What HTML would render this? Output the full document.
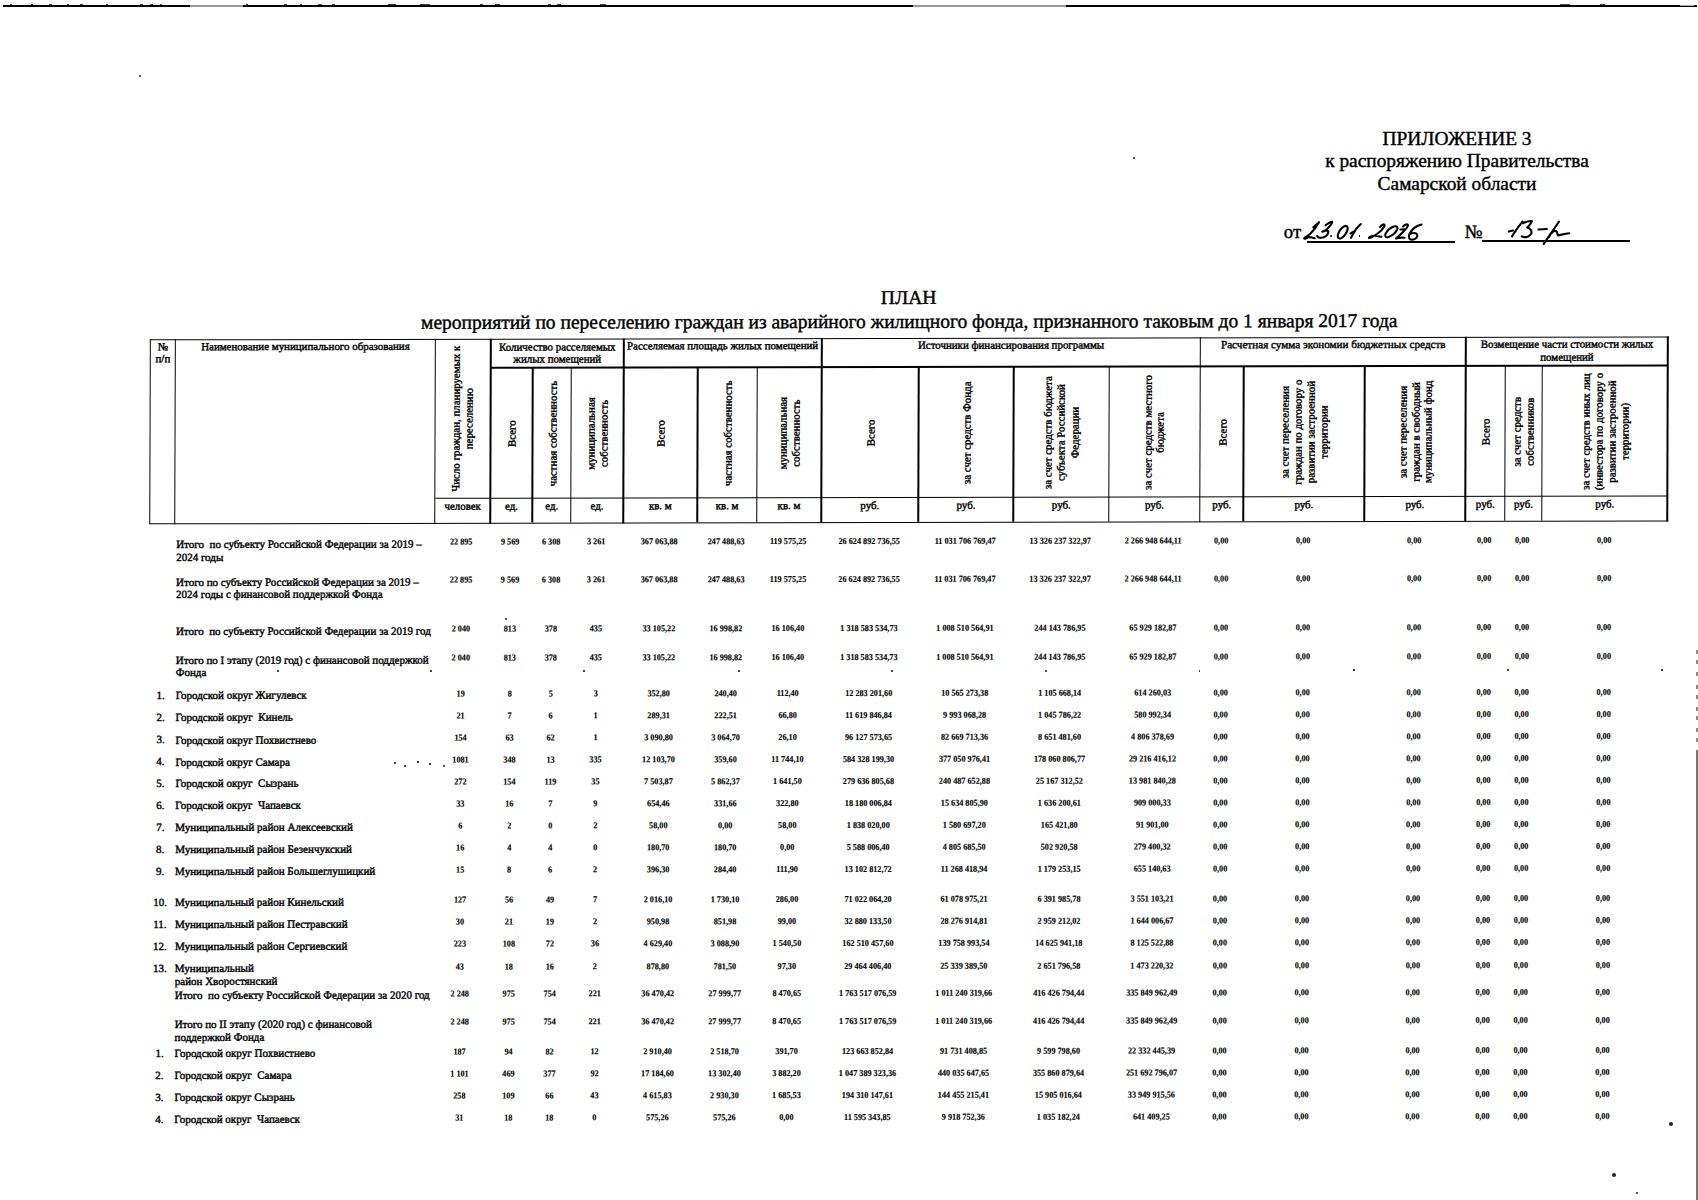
<!DOCTYPE html>
<html><head><meta charset="utf-8">
<style>
html,body{margin:0;padding:0;background:#fff;}
body{width:1698px;height:1200px;overflow:hidden;position:relative;font-family:"Liberation Serif",serif;color:#000;}
.t,.v{-webkit-text-stroke:0.4px #000;}
.t{position:absolute;white-space:nowrap;}
.l{position:absolute;}
.n{font-weight:bold;-webkit-text-stroke:0.1px #000;transform:scaleX(0.91);}
.v{position:absolute;width:300px;height:200px;display:flex;align-items:center;justify-content:center;text-align:center;white-space:nowrap;transform:rotate(-90deg);}
.pg{position:absolute;left:0;top:0;width:1698px;height:1200px;transform:matrix(1,-0.0019,-0.0032,1,0,0);transform-origin:849px 600px;}
.pr{transform:matrix(1,-0.0014,-0.0032,1,0,0);}
</style></head><body>
<div class="t " style="left:457.0px;width:2000px;text-align:center;top:127.1px;font-size:19.4px;line-height:23.279999999999998px;">ПРИЛОЖЕНИЕ 3</div>
<div class="t " style="left:457.0px;width:2000px;text-align:center;top:149.1px;font-size:19.4px;line-height:23.279999999999998px;">к распоряжению Правительства</div>
<div class="t " style="left:457.0px;width:2000px;text-align:center;top:171.6px;font-size:19.4px;line-height:23.279999999999998px;">Самарской области</div>
<div class="t " style="left:1283.8px;top:220.6px;font-size:18.8px;line-height:22.56px;">от</div>
<div class="l" style="left:1306.5px;top:241.00px;width:148.1px;height:1.8px;background:#000"></div>
<div class="t " style="left:1464.5px;top:220.6px;font-size:18.8px;line-height:22.56px;">№</div>
<div class="l" style="left:1482.3px;top:240.45px;width:147.3px;height:1.7px;background:#000"></div>
<svg class="l" style="left:0;top:0" width="1698" height="1200" viewBox="0 0 1698 1200" fill="none" stroke="#000" stroke-width="2.1" stroke-linecap="round" stroke-linejoin="round">
<path d="M1313.3,227.4 L1319,222.2 C1317,226 1313,231 1310.5,233.5 C1308,236 1305,237 1304.3,238 C1303.5,239.5 1306,238.5 1308.1,237.3 C1310,236.5 1312,238 1314.7,238.3"/>
<path d="M1325.6,225.1 C1328,223.5 1331,221.5 1332.2,221.8 C1332,224 1329,227 1327.4,228.8 C1325.5,230.5 1323,231.5 1322.3,231.7 C1325,230.5 1328.5,230 1328.4,232 C1328,235 1325,237.5 1321,237.8 C1319,238 1317.5,237 1317.1,235.9"/>
<ellipse cx="1342.7" cy="232.2" rx="7.3" ry="3.4" transform="rotate(-56 1342.7 232.2)"/>
<path d="M1360.9,224.1 C1359.5,225 1358,227 1356,229 L1351,237.8 M1350.5,233.5 L1354,231.5"/>
<path d="M1380,227 C1382,224 1385,223.5 1384.5,226 C1383,229 1380,232 1377,234 C1374,236 1370,238.5 1369,238 C1368.5,237 1372,235.5 1375,235.8 C1377.5,236 1379.5,236.5 1381.4,236.8"/>
<ellipse cx="1391.3" cy="231.7" rx="7.6" ry="3.3" transform="rotate(-40 1391.3 231.7)"/>
<path d="M1403,226.5 C1405,224.5 1408,223.5 1408,225.5 C1407,229 1401,234 1396,238.5 C1399,237.5 1402,237.5 1404.5,237.8 M1400.5,229.5 L1405,229.3"/>
<path d="M1421.5,224.6 C1417,225.5 1412,229 1409.5,234 C1408,237.5 1409.5,240 1412,239.7 C1415,239.5 1418,237.5 1417.2,235 C1416.5,232.5 1412,232.5 1409.7,234.5"/>
<path d="M1508.8,231.6 L1513,230.5 M1522.5,221.5 C1519,226 1515,231 1512,236.4"/>
<path d="M1523,223.2 C1526,221.8 1530,220.8 1532,221.2 C1531,223.5 1529,226 1527.2,227.6 C1530.5,228.5 1532.5,231 1531,234 C1529,237 1525,238 1521.8,236.4"/>
<path d="M1538.4,229.5 L1546.9,229"/>
<path d="M1559.1,221.5 L1543.7,243.8 M1549,237 C1551,233 1554,230.5 1556,231 C1558,232 1557,235 1558,235.5 C1561,235 1565,233.5 1569.2,233.2"/>
</svg>
<div class="l" style="left:1330.3px;top:235.2px;width:1.8px;height:1.8px;border-radius:1px;background:#000"></div>
<div class="l" style="left:1358.6px;top:235px;width:1.8px;height:1.8px;border-radius:1px;background:#000"></div>
<div class="l" style="left:3.0px;top:5.00px;width:1694.0px;height:1.8px;background:#000"></div>
<div class="l" style="left:190.0px;top:5.00px;width:53.0px;height:1.8px;background:#999"></div>
<div class="l" style="left:913.0px;top:5.10px;width:153.0px;height:1.6px;background:#999"></div>
<div class="l" style="left:1680.0px;top:4.50px;width:14.0px;height:1.6px;background:#aaa"></div>
<div class="l" style="left:10px;top:4.0px;width:2px;height:1.4px;background:#444"></div>
<div class="l" style="left:31px;top:4.0px;width:2px;height:1.4px;background:#444"></div>
<div class="l" style="left:49px;top:4.0px;width:3px;height:1.4px;background:#444"></div>
<div class="l" style="left:67px;top:4.0px;width:2px;height:1.4px;background:#444"></div>
<div class="l" style="left:80px;top:4.0px;width:3px;height:1.4px;background:#444"></div>
<div class="l" style="left:106px;top:4.0px;width:2px;height:1.4px;background:#444"></div>
<div class="l" style="left:140px;top:4.0px;width:2px;height:1.4px;background:#444"></div>
<div class="l" style="left:141px;top:4.0px;width:2px;height:1.4px;background:#444"></div>
<div class="l" style="left:150px;top:4.0px;width:3px;height:1.4px;background:#444"></div>
<div class="l" style="left:160px;top:4.0px;width:2px;height:1.4px;background:#444"></div>
<div class="l" style="left:246px;top:4.0px;width:2px;height:1.4px;background:#444"></div>
<div class="l" style="left:284px;top:4.0px;width:3px;height:1.4px;background:#444"></div>
<div class="l" style="left:300px;top:4.0px;width:2px;height:1.4px;background:#444"></div>
<div class="l" style="left:318px;top:4.0px;width:4px;height:1.4px;background:#444"></div>
<div class="l" style="left:332px;top:4.0px;width:3px;height:1.4px;background:#444"></div>
<div class="l" style="left:388px;top:4.0px;width:8px;height:1.4px;background:#444"></div>
<div class="l" style="left:420px;top:4.0px;width:10px;height:1.4px;background:#444"></div>
<div class="l" style="left:480px;top:4.0px;width:3px;height:1.4px;background:#444"></div>
<div class="l" style="left:495px;top:4.0px;width:5px;height:1.4px;background:#444"></div>
<div class="l" style="left:548px;top:4.0px;width:3px;height:1.4px;background:#444"></div>
<div class="l" style="left:557px;top:4.0px;width:4px;height:1.4px;background:#444"></div>
<div class="l" style="left:600px;top:4.0px;width:6px;height:1.4px;background:#444"></div>
<div class="l" style="left:1560px;top:4.0px;width:10px;height:1.4px;background:#444"></div>
<div class="l" style="left:1600px;top:4.0px;width:5px;height:1.4px;background:#444"></div>
<div class="l" style="left:1696.20px;top:750.0px;width:1.6px;height:450.0px;background:#777"></div>
<div class="l" style="left:1696px;top:650px;width:2px;height:4px;background:#888"></div>
<div class="l" style="left:1696px;top:660px;width:2px;height:4px;background:#888"></div>
<div class="l" style="left:1696px;top:672px;width:2px;height:4px;background:#888"></div>
<div class="l" style="left:1696px;top:685px;width:2px;height:4px;background:#888"></div>
<div class="l" style="left:1696px;top:695px;width:2px;height:4px;background:#888"></div>
<div class="l" style="left:1696px;top:707px;width:2px;height:4px;background:#888"></div>
<div class="l" style="left:1696px;top:716px;width:2px;height:4px;background:#888"></div>
<div class="l" style="left:1696px;top:728px;width:2px;height:4px;background:#888"></div>
<div class="l" style="left:1696px;top:738px;width:2px;height:4px;background:#888"></div>
<div class="l" style="left:138.5px;top:74.5px;width:2px;height:2px;border-radius:50%;background:#222"></div>
<div class="l" style="left:1133.0px;top:156.5px;width:2px;height:2px;border-radius:50%;background:#222"></div>
<div class="l" style="left:505.0px;top:618.0px;width:2px;height:2px;border-radius:50%;background:#222"></div>
<div class="l" style="left:1669.0px;top:1122.0px;width:4px;height:4px;border-radius:50%;background:#222"></div>
<div class="l" style="left:1612.0px;top:1173.0px;width:4px;height:4px;border-radius:50%;background:#222"></div>
<div class="l" style="left:1635.8px;top:1191.8px;width:2.4px;height:2.4px;border-radius:50%;background:#222"></div>
<div class="l" style="left:394.2px;top:762.2px;width:1.6px;height:1.6px;border-radius:50%;background:#222"></div>
<div class="l" style="left:404.2px;top:765.2px;width:1.6px;height:1.6px;border-radius:50%;background:#222"></div>
<div class="l" style="left:417.2px;top:761.2px;width:1.6px;height:1.6px;border-radius:50%;background:#222"></div>
<div class="l" style="left:429.2px;top:763.2px;width:1.6px;height:1.6px;border-radius:50%;background:#222"></div>
<div class="l" style="left:443.0px;top:765.0px;width:2px;height:2px;border-radius:50%;background:#222"></div>
<div class="l" style="left:277.2px;top:670.2px;width:1.6px;height:1.6px;border-radius:50%;background:#222"></div>
<div class="l" style="left:430.2px;top:670.2px;width:1.6px;height:1.6px;border-radius:50%;background:#222"></div>
<div class="l" style="left:583.2px;top:670.2px;width:1.6px;height:1.6px;border-radius:50%;background:#222"></div>
<div class="l" style="left:738.2px;top:670.2px;width:1.6px;height:1.6px;border-radius:50%;background:#222"></div>
<div class="l" style="left:891.2px;top:670.2px;width:1.6px;height:1.6px;border-radius:50%;background:#222"></div>
<div class="l" style="left:1045.2px;top:670.2px;width:1.6px;height:1.6px;border-radius:50%;background:#222"></div>
<div class="l" style="left:1198.7px;top:670.2px;width:1.6px;height:1.6px;border-radius:50%;background:#222"></div>
<div class="l" style="left:1353.2px;top:669.2px;width:1.6px;height:1.6px;border-radius:50%;background:#222"></div>
<div class="l" style="left:1507.2px;top:669.2px;width:1.6px;height:1.6px;border-radius:50%;background:#222"></div>
<div class="l" style="left:1661.2px;top:669.2px;width:1.6px;height:1.6px;border-radius:50%;background:#222"></div>
<div class="pg">
<div class="t " style="left:-92.3px;width:2000px;text-align:center;top:286.0px;font-size:19.6px;line-height:23.52px;">ПЛАН</div>
<div class="t " style="left:-91.6px;width:2000px;text-align:center;top:309.9px;font-size:19.5px;line-height:23.4px;white-space:nowrap">мероприятий по переселению граждан из аварийного жилищного фонда, признанного таковым до 1 января 2017 года</div>
<div class="l" style="left:148.8px;top:337.80px;width:1519.2px;height:1.6px;background:#000"></div>
<div class="l" style="left:148.8px;top:521.60px;width:1519.2px;height:1.6px;background:#000"></div>
<div class="l" style="left:148.80px;top:337.8px;width:1.6px;height:185.4px;background:#000"></div>
<div class="l" style="left:173.90px;top:337.8px;width:1.6px;height:185.4px;background:#000"></div>
<div class="l" style="left:433.80px;top:337.8px;width:1.6px;height:185.4px;background:#000"></div>
<div class="l" style="left:489.40px;top:337.8px;width:1.6px;height:185.4px;background:#000"></div>
<div class="l" style="left:531.40px;top:367.1px;width:1.6px;height:155.3px;background:#000"></div>
<div class="l" style="left:569.90px;top:367.1px;width:1.6px;height:155.3px;background:#000"></div>
<div class="l" style="left:622.00px;top:337.8px;width:1.6px;height:185.4px;background:#000"></div>
<div class="l" style="left:696.30px;top:367.1px;width:1.6px;height:155.3px;background:#000"></div>
<div class="l" style="left:755.70px;top:367.1px;width:1.6px;height:155.3px;background:#000"></div>
<div class="l" style="left:820.10px;top:337.8px;width:1.6px;height:185.4px;background:#000"></div>
<div class="l" style="left:917.40px;top:367.1px;width:1.6px;height:155.3px;background:#000"></div>
<div class="l" style="left:1012.40px;top:367.1px;width:1.6px;height:155.3px;background:#000"></div>
<div class="l" style="left:1107.90px;top:367.1px;width:1.6px;height:155.3px;background:#000"></div>
<div class="l" style="left:1198.90px;top:337.8px;width:1.6px;height:185.4px;background:#000"></div>
<div class="l" style="left:1242.40px;top:367.1px;width:1.6px;height:155.3px;background:#000"></div>
<div class="l" style="left:1363.10px;top:367.1px;width:1.6px;height:155.3px;background:#000"></div>
<div class="l" style="left:1464.40px;top:337.8px;width:1.6px;height:185.4px;background:#000"></div>
<div class="l" style="left:1503.90px;top:367.1px;width:1.6px;height:155.3px;background:#000"></div>
<div class="l" style="left:1540.90px;top:367.1px;width:1.6px;height:155.3px;background:#000"></div>
<div class="l" style="left:1666.40px;top:337.8px;width:1.6px;height:185.4px;background:#000"></div>
<div class="l" style="left:490.2px;top:366.30px;width:1177.0px;height:1.6px;background:#000"></div>
<div class="l" style="left:434.6px;top:496.90px;width:1232.6px;height:1.6px;background:#000"></div>
<div class="t " style="left:-837.9px;width:2000px;text-align:center;top:338.9px;font-size:10.9px;line-height:12px;">№<br>п/п</div>
<div class="t " style="left:-695.4px;width:2000px;text-align:center;top:339.0px;font-size:10.9px;line-height:13.08px;">Наименование муниципального образования</div>
<div class="t " style="left:-443.5px;width:2000px;text-align:center;top:339.5px;font-size:10.9px;line-height:12px;">Количество расселяемых<br>жилых помещений</div>
<div class="t " style="left:-278.2px;width:2000px;text-align:center;top:339.0px;font-size:10.9px;line-height:13.08px;">Расселяемая площадь жилых помещений</div>
<div class="t " style="left:10.3px;width:2000px;text-align:center;top:339.0px;font-size:10.9px;line-height:13.08px;">Источники финансирования программы</div>
<div class="t " style="left:332.5px;width:2000px;text-align:center;top:338.7px;font-size:11.15px;line-height:13.38px;">Расчетная сумма экономии бюджетных средств</div>
<div class="t " style="left:566.2px;width:2000px;text-align:center;top:339.3px;font-size:10.9px;line-height:12.4px;">Возмещение части стоимости жилых<br>помещений</div>
<div class="v" style="left:312.4px;top:318.1px;font-size:10.9px;line-height:13.3px;"><span>Число граждан, планируемых к<br>переселению</span></div>
<div class="v" style="left:361.2px;top:332.9px;font-size:10.9px;line-height:12.6px;"><span>Всего</span></div>
<div class="v" style="left:401.5px;top:332.9px;font-size:10.9px;line-height:12.6px;"><span>частная собственность</span></div>
<div class="v" style="left:446.8px;top:332.9px;font-size:10.9px;line-height:12.6px;"><span>муниципальная<br>собственность</span></div>
<div class="v" style="left:510.0px;top:332.9px;font-size:10.9px;line-height:12.6px;"><span>Всего</span></div>
<div class="v" style="left:576.8px;top:332.9px;font-size:10.9px;line-height:12.6px;"><span>частная собственность</span></div>
<div class="v" style="left:638.7px;top:332.9px;font-size:10.9px;line-height:12.6px;"><span>муниципальная<br>собственность</span></div>
<div class="v" style="left:719.5px;top:332.9px;font-size:10.9px;line-height:12.6px;"><span>Всего</span></div>
<div class="v" style="left:815.7px;top:332.9px;font-size:10.9px;line-height:12.6px;"><span>за счет средств Фонда</span></div>
<div class="v" style="left:911.0px;top:332.9px;font-size:10.9px;line-height:13.3px;"><span>за счет средств бюджета<br>субъекта Российской<br>Федерации</span></div>
<div class="v" style="left:1004.2px;top:332.9px;font-size:10.9px;line-height:11.8px;"><span>за счет средств местного<br>бюджета</span></div>
<div class="v" style="left:1071.5px;top:332.9px;font-size:10.9px;line-height:12.6px;"><span>Всего</span></div>
<div class="v" style="left:1153.6px;top:332.9px;font-size:10.9px;line-height:13.0px;"><span>за счет переселения<br>граждан по договору о<br>развитии застроенной<br>территории</span></div>
<div class="v" style="left:1264.6px;top:332.9px;font-size:10.9px;line-height:12.8px;"><span>за счет переселения<br>граждан в свободный<br>муниципальный фонд</span></div>
<div class="v" style="left:1335.0px;top:332.9px;font-size:10.9px;line-height:12.6px;"><span>Всего</span></div>
<div class="v" style="left:1373.2px;top:332.9px;font-size:10.9px;line-height:13.0px;"><span>за счет средств<br>собственников</span></div>
<div class="v" style="left:1454.5px;top:332.9px;font-size:10.9px;line-height:13.0px;"><span>за счет средств иных лиц<br>(инвестора по договору о<br>развитии застроенной<br>территории)</span></div>
<div class="t " style="left:-537.6px;width:2000px;text-align:center;top:498.6px;font-size:10.9px;line-height:13.08px;">человек</div>
<div class="t " style="left:-488.8px;width:2000px;text-align:center;top:498.6px;font-size:10.9px;line-height:13.08px;">ед.</div>
<div class="t " style="left:-448.5px;width:2000px;text-align:center;top:498.6px;font-size:10.9px;line-height:13.08px;">ед.</div>
<div class="t " style="left:-403.2px;width:2000px;text-align:center;top:498.6px;font-size:10.9px;line-height:13.08px;">ед.</div>
<div class="t " style="left:-340.0px;width:2000px;text-align:center;top:498.6px;font-size:10.9px;line-height:13.08px;">кв. м</div>
<div class="t " style="left:-273.2px;width:2000px;text-align:center;top:498.6px;font-size:10.9px;line-height:13.08px;">кв. м</div>
<div class="t " style="left:-211.3px;width:2000px;text-align:center;top:498.6px;font-size:10.9px;line-height:13.08px;">кв. м</div>
<div class="t " style="left:-130.5px;width:2000px;text-align:center;top:498.6px;font-size:10.9px;line-height:13.08px;">руб.</div>
<div class="t " style="left:-34.3px;width:2000px;text-align:center;top:498.6px;font-size:10.9px;line-height:13.08px;">руб.</div>
<div class="t " style="left:61.0px;width:2000px;text-align:center;top:498.6px;font-size:10.9px;line-height:13.08px;">руб.</div>
<div class="t " style="left:154.2px;width:2000px;text-align:center;top:498.6px;font-size:10.9px;line-height:13.08px;">руб.</div>
<div class="t " style="left:221.5px;width:2000px;text-align:center;top:498.6px;font-size:10.9px;line-height:13.08px;">руб.</div>
<div class="t " style="left:303.6px;width:2000px;text-align:center;top:498.6px;font-size:10.9px;line-height:13.08px;">руб.</div>
<div class="t " style="left:414.6px;width:2000px;text-align:center;top:498.6px;font-size:10.9px;line-height:13.08px;">руб.</div>
<div class="t " style="left:485.0px;width:2000px;text-align:center;top:498.6px;font-size:10.9px;line-height:13.08px;">руб.</div>
<div class="t " style="left:523.2px;width:2000px;text-align:center;top:498.6px;font-size:10.9px;line-height:13.08px;">руб.</div>
<div class="t " style="left:604.5px;width:2000px;text-align:center;top:498.6px;font-size:10.9px;line-height:13.08px;">руб.</div>
</div>
<div class="pg pr">
<div class="t " style="left:176.0px;top:537.1px;font-size:11.0px;line-height:12.5px;">Итого&nbsp; по субъекту Российской Федерации за 2019 –<br>2024 годы</div>
<div class="t n" style="left:-538.6px;width:2000px;text-align:center;top:536.3px;font-size:9.0px;line-height:10px;">22 895</div>
<div class="t n" style="left:-489.8px;width:2000px;text-align:center;top:536.3px;font-size:9.0px;line-height:10px;">9 569</div>
<div class="t n" style="left:-449.5px;width:2000px;text-align:center;top:536.3px;font-size:9.0px;line-height:10px;">6 308</div>
<div class="t n" style="left:-404.2px;width:2000px;text-align:center;top:536.3px;font-size:9.0px;line-height:10px;">3 261</div>
<div class="t n" style="left:-341.0px;width:2000px;text-align:center;top:536.3px;font-size:9.0px;line-height:10px;">367 063,88</div>
<div class="t n" style="left:-274.2px;width:2000px;text-align:center;top:536.3px;font-size:9.0px;line-height:10px;">247 488,63</div>
<div class="t n" style="left:-212.3px;width:2000px;text-align:center;top:536.3px;font-size:9.0px;line-height:10px;">119 575,25</div>
<div class="t n" style="left:-131.5px;width:2000px;text-align:center;top:536.3px;font-size:9.0px;line-height:10px;">26 624 892 736,55</div>
<div class="t n" style="left:-35.3px;width:2000px;text-align:center;top:536.3px;font-size:9.0px;line-height:10px;">11 031 706 769,47</div>
<div class="t n" style="left:60.0px;width:2000px;text-align:center;top:536.3px;font-size:9.0px;line-height:10px;">13 326 237 322,97</div>
<div class="t n" style="left:153.2px;width:2000px;text-align:center;top:536.3px;font-size:9.0px;line-height:10px;">2 266 948 644,11</div>
<div class="t n" style="left:220.5px;width:2000px;text-align:center;top:536.3px;font-size:9.0px;line-height:10px;">0,00</div>
<div class="t n" style="left:302.6px;width:2000px;text-align:center;top:536.3px;font-size:9.0px;line-height:10px;">0,00</div>
<div class="t n" style="left:413.6px;width:2000px;text-align:center;top:536.3px;font-size:9.0px;line-height:10px;">0,00</div>
<div class="t n" style="left:484.0px;width:2000px;text-align:center;top:536.3px;font-size:9.0px;line-height:10px;">0,00</div>
<div class="t n" style="left:522.2px;width:2000px;text-align:center;top:536.3px;font-size:9.0px;line-height:10px;">0,00</div>
<div class="t n" style="left:603.5px;width:2000px;text-align:center;top:536.3px;font-size:9.0px;line-height:10px;">0,00</div>
<div class="t " style="left:176.0px;top:574.5px;font-size:11.0px;line-height:12.5px;">Итого по субъекту Российской Федерации за 2019 –<br>2024 годы с финансовой поддержкой Фонда</div>
<div class="t n" style="left:-538.6px;width:2000px;text-align:center;top:573.7px;font-size:9.0px;line-height:10px;">22 895</div>
<div class="t n" style="left:-489.8px;width:2000px;text-align:center;top:573.7px;font-size:9.0px;line-height:10px;">9 569</div>
<div class="t n" style="left:-449.5px;width:2000px;text-align:center;top:573.7px;font-size:9.0px;line-height:10px;">6 308</div>
<div class="t n" style="left:-404.2px;width:2000px;text-align:center;top:573.7px;font-size:9.0px;line-height:10px;">3 261</div>
<div class="t n" style="left:-341.0px;width:2000px;text-align:center;top:573.7px;font-size:9.0px;line-height:10px;">367 063,88</div>
<div class="t n" style="left:-274.2px;width:2000px;text-align:center;top:573.7px;font-size:9.0px;line-height:10px;">247 488,63</div>
<div class="t n" style="left:-212.3px;width:2000px;text-align:center;top:573.7px;font-size:9.0px;line-height:10px;">119 575,25</div>
<div class="t n" style="left:-131.5px;width:2000px;text-align:center;top:573.7px;font-size:9.0px;line-height:10px;">26 624 892 736,55</div>
<div class="t n" style="left:-35.3px;width:2000px;text-align:center;top:573.7px;font-size:9.0px;line-height:10px;">11 031 706 769,47</div>
<div class="t n" style="left:60.0px;width:2000px;text-align:center;top:573.7px;font-size:9.0px;line-height:10px;">13 326 237 322,97</div>
<div class="t n" style="left:153.2px;width:2000px;text-align:center;top:573.7px;font-size:9.0px;line-height:10px;">2 266 948 644,11</div>
<div class="t n" style="left:220.5px;width:2000px;text-align:center;top:573.7px;font-size:9.0px;line-height:10px;">0,00</div>
<div class="t n" style="left:302.6px;width:2000px;text-align:center;top:573.7px;font-size:9.0px;line-height:10px;">0,00</div>
<div class="t n" style="left:413.6px;width:2000px;text-align:center;top:573.7px;font-size:9.0px;line-height:10px;">0,00</div>
<div class="t n" style="left:484.0px;width:2000px;text-align:center;top:573.7px;font-size:9.0px;line-height:10px;">0,00</div>
<div class="t n" style="left:522.2px;width:2000px;text-align:center;top:573.7px;font-size:9.0px;line-height:10px;">0,00</div>
<div class="t n" style="left:603.5px;width:2000px;text-align:center;top:573.7px;font-size:9.0px;line-height:10px;">0,00</div>
<div class="t " style="left:176.0px;top:623.8px;font-size:11.0px;line-height:12.5px;">Итого&nbsp; по субъекту Российской Федерации за 2019 год</div>
<div class="t n" style="left:-538.6px;width:2000px;text-align:center;top:623.0px;font-size:9.0px;line-height:10px;">2 040</div>
<div class="t n" style="left:-489.8px;width:2000px;text-align:center;top:623.0px;font-size:9.0px;line-height:10px;">813</div>
<div class="t n" style="left:-449.5px;width:2000px;text-align:center;top:623.0px;font-size:9.0px;line-height:10px;">378</div>
<div class="t n" style="left:-404.2px;width:2000px;text-align:center;top:623.0px;font-size:9.0px;line-height:10px;">435</div>
<div class="t n" style="left:-341.0px;width:2000px;text-align:center;top:623.0px;font-size:9.0px;line-height:10px;">33 105,22</div>
<div class="t n" style="left:-274.2px;width:2000px;text-align:center;top:623.0px;font-size:9.0px;line-height:10px;">16 998,82</div>
<div class="t n" style="left:-212.3px;width:2000px;text-align:center;top:623.0px;font-size:9.0px;line-height:10px;">16 106,40</div>
<div class="t n" style="left:-131.5px;width:2000px;text-align:center;top:623.0px;font-size:9.0px;line-height:10px;">1 318 583 534,73</div>
<div class="t n" style="left:-35.3px;width:2000px;text-align:center;top:623.0px;font-size:9.0px;line-height:10px;">1 008 510 564,91</div>
<div class="t n" style="left:60.0px;width:2000px;text-align:center;top:623.0px;font-size:9.0px;line-height:10px;">244 143 786,95</div>
<div class="t n" style="left:153.2px;width:2000px;text-align:center;top:623.0px;font-size:9.0px;line-height:10px;">65 929 182,87</div>
<div class="t n" style="left:220.5px;width:2000px;text-align:center;top:623.0px;font-size:9.0px;line-height:10px;">0,00</div>
<div class="t n" style="left:302.6px;width:2000px;text-align:center;top:623.0px;font-size:9.0px;line-height:10px;">0,00</div>
<div class="t n" style="left:413.6px;width:2000px;text-align:center;top:623.0px;font-size:9.0px;line-height:10px;">0,00</div>
<div class="t n" style="left:484.0px;width:2000px;text-align:center;top:623.0px;font-size:9.0px;line-height:10px;">0,00</div>
<div class="t n" style="left:522.2px;width:2000px;text-align:center;top:623.0px;font-size:9.0px;line-height:10px;">0,00</div>
<div class="t n" style="left:603.5px;width:2000px;text-align:center;top:623.0px;font-size:9.0px;line-height:10px;">0,00</div>
<div class="t " style="left:176.0px;top:652.8px;font-size:11.0px;line-height:12.5px;">Итого по I этапу (2019 год) с финансовой поддержкой<br>Фонда</div>
<div class="t n" style="left:-538.6px;width:2000px;text-align:center;top:652.0px;font-size:9.0px;line-height:10px;">2 040</div>
<div class="t n" style="left:-489.8px;width:2000px;text-align:center;top:652.0px;font-size:9.0px;line-height:10px;">813</div>
<div class="t n" style="left:-449.5px;width:2000px;text-align:center;top:652.0px;font-size:9.0px;line-height:10px;">378</div>
<div class="t n" style="left:-404.2px;width:2000px;text-align:center;top:652.0px;font-size:9.0px;line-height:10px;">435</div>
<div class="t n" style="left:-341.0px;width:2000px;text-align:center;top:652.0px;font-size:9.0px;line-height:10px;">33 105,22</div>
<div class="t n" style="left:-274.2px;width:2000px;text-align:center;top:652.0px;font-size:9.0px;line-height:10px;">16 998,82</div>
<div class="t n" style="left:-212.3px;width:2000px;text-align:center;top:652.0px;font-size:9.0px;line-height:10px;">16 106,40</div>
<div class="t n" style="left:-131.5px;width:2000px;text-align:center;top:652.0px;font-size:9.0px;line-height:10px;">1 318 583 534,73</div>
<div class="t n" style="left:-35.3px;width:2000px;text-align:center;top:652.0px;font-size:9.0px;line-height:10px;">1 008 510 564,91</div>
<div class="t n" style="left:60.0px;width:2000px;text-align:center;top:652.0px;font-size:9.0px;line-height:10px;">244 143 786,95</div>
<div class="t n" style="left:153.2px;width:2000px;text-align:center;top:652.0px;font-size:9.0px;line-height:10px;">65 929 182,87</div>
<div class="t n" style="left:220.5px;width:2000px;text-align:center;top:652.0px;font-size:9.0px;line-height:10px;">0,00</div>
<div class="t n" style="left:302.6px;width:2000px;text-align:center;top:652.0px;font-size:9.0px;line-height:10px;">0,00</div>
<div class="t n" style="left:413.6px;width:2000px;text-align:center;top:652.0px;font-size:9.0px;line-height:10px;">0,00</div>
<div class="t n" style="left:484.0px;width:2000px;text-align:center;top:652.0px;font-size:9.0px;line-height:10px;">0,00</div>
<div class="t n" style="left:522.2px;width:2000px;text-align:center;top:652.0px;font-size:9.0px;line-height:10px;">0,00</div>
<div class="t n" style="left:603.5px;width:2000px;text-align:center;top:652.0px;font-size:9.0px;line-height:10px;">0,00</div>
<div class="t " style="left:-839.0px;width:2000px;text-align:center;top:688.0px;font-size:11.0px;line-height:13.2px;">1.</div>
<div class="t " style="left:176.0px;top:688.4px;font-size:11.0px;line-height:12.5px;">Городской округ Жигулевск</div>
<div class="t n" style="left:-538.6px;width:2000px;text-align:center;top:687.6px;font-size:9.0px;line-height:10px;">19</div>
<div class="t n" style="left:-489.8px;width:2000px;text-align:center;top:687.6px;font-size:9.0px;line-height:10px;">8</div>
<div class="t n" style="left:-449.5px;width:2000px;text-align:center;top:687.6px;font-size:9.0px;line-height:10px;">5</div>
<div class="t n" style="left:-404.2px;width:2000px;text-align:center;top:687.6px;font-size:9.0px;line-height:10px;">3</div>
<div class="t n" style="left:-341.0px;width:2000px;text-align:center;top:687.6px;font-size:9.0px;line-height:10px;">352,80</div>
<div class="t n" style="left:-274.2px;width:2000px;text-align:center;top:687.6px;font-size:9.0px;line-height:10px;">240,40</div>
<div class="t n" style="left:-212.3px;width:2000px;text-align:center;top:687.6px;font-size:9.0px;line-height:10px;">112,40</div>
<div class="t n" style="left:-131.5px;width:2000px;text-align:center;top:687.6px;font-size:9.0px;line-height:10px;">12 283 201,60</div>
<div class="t n" style="left:-35.3px;width:2000px;text-align:center;top:687.6px;font-size:9.0px;line-height:10px;">10 565 273,38</div>
<div class="t n" style="left:60.0px;width:2000px;text-align:center;top:687.6px;font-size:9.0px;line-height:10px;">1 105 668,14</div>
<div class="t n" style="left:153.2px;width:2000px;text-align:center;top:687.6px;font-size:9.0px;line-height:10px;">614 260,03</div>
<div class="t n" style="left:220.5px;width:2000px;text-align:center;top:687.6px;font-size:9.0px;line-height:10px;">0,00</div>
<div class="t n" style="left:302.6px;width:2000px;text-align:center;top:687.6px;font-size:9.0px;line-height:10px;">0,00</div>
<div class="t n" style="left:413.6px;width:2000px;text-align:center;top:687.6px;font-size:9.0px;line-height:10px;">0,00</div>
<div class="t n" style="left:484.0px;width:2000px;text-align:center;top:687.6px;font-size:9.0px;line-height:10px;">0,00</div>
<div class="t n" style="left:522.2px;width:2000px;text-align:center;top:687.6px;font-size:9.0px;line-height:10px;">0,00</div>
<div class="t n" style="left:603.5px;width:2000px;text-align:center;top:687.6px;font-size:9.0px;line-height:10px;">0,00</div>
<div class="t " style="left:-839.0px;width:2000px;text-align:center;top:710.0px;font-size:11.0px;line-height:13.2px;">2.</div>
<div class="t " style="left:176.0px;top:710.4px;font-size:11.0px;line-height:12.5px;">Городской округ&nbsp; Кинель</div>
<div class="t n" style="left:-538.6px;width:2000px;text-align:center;top:709.6px;font-size:9.0px;line-height:10px;">21</div>
<div class="t n" style="left:-489.8px;width:2000px;text-align:center;top:709.6px;font-size:9.0px;line-height:10px;">7</div>
<div class="t n" style="left:-449.5px;width:2000px;text-align:center;top:709.6px;font-size:9.0px;line-height:10px;">6</div>
<div class="t n" style="left:-404.2px;width:2000px;text-align:center;top:709.6px;font-size:9.0px;line-height:10px;">1</div>
<div class="t n" style="left:-341.0px;width:2000px;text-align:center;top:709.6px;font-size:9.0px;line-height:10px;">289,31</div>
<div class="t n" style="left:-274.2px;width:2000px;text-align:center;top:709.6px;font-size:9.0px;line-height:10px;">222,51</div>
<div class="t n" style="left:-212.3px;width:2000px;text-align:center;top:709.6px;font-size:9.0px;line-height:10px;">66,80</div>
<div class="t n" style="left:-131.5px;width:2000px;text-align:center;top:709.6px;font-size:9.0px;line-height:10px;">11 619 846,84</div>
<div class="t n" style="left:-35.3px;width:2000px;text-align:center;top:709.6px;font-size:9.0px;line-height:10px;">9 993 068,28</div>
<div class="t n" style="left:60.0px;width:2000px;text-align:center;top:709.6px;font-size:9.0px;line-height:10px;">1 045 786,22</div>
<div class="t n" style="left:153.2px;width:2000px;text-align:center;top:709.6px;font-size:9.0px;line-height:10px;">580 992,34</div>
<div class="t n" style="left:220.5px;width:2000px;text-align:center;top:709.6px;font-size:9.0px;line-height:10px;">0,00</div>
<div class="t n" style="left:302.6px;width:2000px;text-align:center;top:709.6px;font-size:9.0px;line-height:10px;">0,00</div>
<div class="t n" style="left:413.6px;width:2000px;text-align:center;top:709.6px;font-size:9.0px;line-height:10px;">0,00</div>
<div class="t n" style="left:484.0px;width:2000px;text-align:center;top:709.6px;font-size:9.0px;line-height:10px;">0,00</div>
<div class="t n" style="left:522.2px;width:2000px;text-align:center;top:709.6px;font-size:9.0px;line-height:10px;">0,00</div>
<div class="t n" style="left:603.5px;width:2000px;text-align:center;top:709.6px;font-size:9.0px;line-height:10px;">0,00</div>
<div class="t " style="left:-839.0px;width:2000px;text-align:center;top:732.2px;font-size:11.0px;line-height:13.2px;">3.</div>
<div class="t " style="left:176.0px;top:732.6px;font-size:11.0px;line-height:12.5px;">Городской округ Похвистнево</div>
<div class="t n" style="left:-538.6px;width:2000px;text-align:center;top:731.8px;font-size:9.0px;line-height:10px;">154</div>
<div class="t n" style="left:-489.8px;width:2000px;text-align:center;top:731.8px;font-size:9.0px;line-height:10px;">63</div>
<div class="t n" style="left:-449.5px;width:2000px;text-align:center;top:731.8px;font-size:9.0px;line-height:10px;">62</div>
<div class="t n" style="left:-404.2px;width:2000px;text-align:center;top:731.8px;font-size:9.0px;line-height:10px;">1</div>
<div class="t n" style="left:-341.0px;width:2000px;text-align:center;top:731.8px;font-size:9.0px;line-height:10px;">3 090,80</div>
<div class="t n" style="left:-274.2px;width:2000px;text-align:center;top:731.8px;font-size:9.0px;line-height:10px;">3 064,70</div>
<div class="t n" style="left:-212.3px;width:2000px;text-align:center;top:731.8px;font-size:9.0px;line-height:10px;">26,10</div>
<div class="t n" style="left:-131.5px;width:2000px;text-align:center;top:731.8px;font-size:9.0px;line-height:10px;">96 127 573,65</div>
<div class="t n" style="left:-35.3px;width:2000px;text-align:center;top:731.8px;font-size:9.0px;line-height:10px;">82 669 713,36</div>
<div class="t n" style="left:60.0px;width:2000px;text-align:center;top:731.8px;font-size:9.0px;line-height:10px;">8 651 481,60</div>
<div class="t n" style="left:153.2px;width:2000px;text-align:center;top:731.8px;font-size:9.0px;line-height:10px;">4 806 378,69</div>
<div class="t n" style="left:220.5px;width:2000px;text-align:center;top:731.8px;font-size:9.0px;line-height:10px;">0,00</div>
<div class="t n" style="left:302.6px;width:2000px;text-align:center;top:731.8px;font-size:9.0px;line-height:10px;">0,00</div>
<div class="t n" style="left:413.6px;width:2000px;text-align:center;top:731.8px;font-size:9.0px;line-height:10px;">0,00</div>
<div class="t n" style="left:484.0px;width:2000px;text-align:center;top:731.8px;font-size:9.0px;line-height:10px;">0,00</div>
<div class="t n" style="left:522.2px;width:2000px;text-align:center;top:731.8px;font-size:9.0px;line-height:10px;">0,00</div>
<div class="t n" style="left:603.5px;width:2000px;text-align:center;top:731.8px;font-size:9.0px;line-height:10px;">0,00</div>
<div class="t " style="left:-839.0px;width:2000px;text-align:center;top:754.2px;font-size:11.0px;line-height:13.2px;">4.</div>
<div class="t " style="left:176.0px;top:754.6px;font-size:11.0px;line-height:12.5px;">Городской округ Самара</div>
<div class="t n" style="left:-538.6px;width:2000px;text-align:center;top:753.8px;font-size:9.0px;line-height:10px;">1081</div>
<div class="t n" style="left:-489.8px;width:2000px;text-align:center;top:753.8px;font-size:9.0px;line-height:10px;">348</div>
<div class="t n" style="left:-449.5px;width:2000px;text-align:center;top:753.8px;font-size:9.0px;line-height:10px;">13</div>
<div class="t n" style="left:-404.2px;width:2000px;text-align:center;top:753.8px;font-size:9.0px;line-height:10px;">335</div>
<div class="t n" style="left:-341.0px;width:2000px;text-align:center;top:753.8px;font-size:9.0px;line-height:10px;">12 103,70</div>
<div class="t n" style="left:-274.2px;width:2000px;text-align:center;top:753.8px;font-size:9.0px;line-height:10px;">359,60</div>
<div class="t n" style="left:-212.3px;width:2000px;text-align:center;top:753.8px;font-size:9.0px;line-height:10px;">11 744,10</div>
<div class="t n" style="left:-131.5px;width:2000px;text-align:center;top:753.8px;font-size:9.0px;line-height:10px;">584 328 199,30</div>
<div class="t n" style="left:-35.3px;width:2000px;text-align:center;top:753.8px;font-size:9.0px;line-height:10px;">377 050 976,41</div>
<div class="t n" style="left:60.0px;width:2000px;text-align:center;top:753.8px;font-size:9.0px;line-height:10px;">178 060 806,77</div>
<div class="t n" style="left:153.2px;width:2000px;text-align:center;top:753.8px;font-size:9.0px;line-height:10px;">29 216 416,12</div>
<div class="t n" style="left:220.5px;width:2000px;text-align:center;top:753.8px;font-size:9.0px;line-height:10px;">0,00</div>
<div class="t n" style="left:302.6px;width:2000px;text-align:center;top:753.8px;font-size:9.0px;line-height:10px;">0,00</div>
<div class="t n" style="left:413.6px;width:2000px;text-align:center;top:753.8px;font-size:9.0px;line-height:10px;">0,00</div>
<div class="t n" style="left:484.0px;width:2000px;text-align:center;top:753.8px;font-size:9.0px;line-height:10px;">0,00</div>
<div class="t n" style="left:522.2px;width:2000px;text-align:center;top:753.8px;font-size:9.0px;line-height:10px;">0,00</div>
<div class="t n" style="left:603.5px;width:2000px;text-align:center;top:753.8px;font-size:9.0px;line-height:10px;">0,00</div>
<div class="t " style="left:-839.0px;width:2000px;text-align:center;top:775.9px;font-size:11.0px;line-height:13.2px;">5.</div>
<div class="t " style="left:176.0px;top:776.3px;font-size:11.0px;line-height:12.5px;">Городской округ&nbsp; Сызрань</div>
<div class="t n" style="left:-538.6px;width:2000px;text-align:center;top:775.5px;font-size:9.0px;line-height:10px;">272</div>
<div class="t n" style="left:-489.8px;width:2000px;text-align:center;top:775.5px;font-size:9.0px;line-height:10px;">154</div>
<div class="t n" style="left:-449.5px;width:2000px;text-align:center;top:775.5px;font-size:9.0px;line-height:10px;">119</div>
<div class="t n" style="left:-404.2px;width:2000px;text-align:center;top:775.5px;font-size:9.0px;line-height:10px;">35</div>
<div class="t n" style="left:-341.0px;width:2000px;text-align:center;top:775.5px;font-size:9.0px;line-height:10px;">7 503,87</div>
<div class="t n" style="left:-274.2px;width:2000px;text-align:center;top:775.5px;font-size:9.0px;line-height:10px;">5 862,37</div>
<div class="t n" style="left:-212.3px;width:2000px;text-align:center;top:775.5px;font-size:9.0px;line-height:10px;">1 641,50</div>
<div class="t n" style="left:-131.5px;width:2000px;text-align:center;top:775.5px;font-size:9.0px;line-height:10px;">279 636 805,68</div>
<div class="t n" style="left:-35.3px;width:2000px;text-align:center;top:775.5px;font-size:9.0px;line-height:10px;">240 487 652,88</div>
<div class="t n" style="left:60.0px;width:2000px;text-align:center;top:775.5px;font-size:9.0px;line-height:10px;">25 167 312,52</div>
<div class="t n" style="left:153.2px;width:2000px;text-align:center;top:775.5px;font-size:9.0px;line-height:10px;">13 981 840,28</div>
<div class="t n" style="left:220.5px;width:2000px;text-align:center;top:775.5px;font-size:9.0px;line-height:10px;">0,00</div>
<div class="t n" style="left:302.6px;width:2000px;text-align:center;top:775.5px;font-size:9.0px;line-height:10px;">0,00</div>
<div class="t n" style="left:413.6px;width:2000px;text-align:center;top:775.5px;font-size:9.0px;line-height:10px;">0,00</div>
<div class="t n" style="left:484.0px;width:2000px;text-align:center;top:775.5px;font-size:9.0px;line-height:10px;">0,00</div>
<div class="t n" style="left:522.2px;width:2000px;text-align:center;top:775.5px;font-size:9.0px;line-height:10px;">0,00</div>
<div class="t n" style="left:603.5px;width:2000px;text-align:center;top:775.5px;font-size:9.0px;line-height:10px;">0,00</div>
<div class="t " style="left:-839.0px;width:2000px;text-align:center;top:798.0px;font-size:11.0px;line-height:13.2px;">6.</div>
<div class="t " style="left:176.0px;top:798.4px;font-size:11.0px;line-height:12.5px;">Городской округ&nbsp; Чапаевск</div>
<div class="t n" style="left:-538.6px;width:2000px;text-align:center;top:797.6px;font-size:9.0px;line-height:10px;">33</div>
<div class="t n" style="left:-489.8px;width:2000px;text-align:center;top:797.6px;font-size:9.0px;line-height:10px;">16</div>
<div class="t n" style="left:-449.5px;width:2000px;text-align:center;top:797.6px;font-size:9.0px;line-height:10px;">7</div>
<div class="t n" style="left:-404.2px;width:2000px;text-align:center;top:797.6px;font-size:9.0px;line-height:10px;">9</div>
<div class="t n" style="left:-341.0px;width:2000px;text-align:center;top:797.6px;font-size:9.0px;line-height:10px;">654,46</div>
<div class="t n" style="left:-274.2px;width:2000px;text-align:center;top:797.6px;font-size:9.0px;line-height:10px;">331,66</div>
<div class="t n" style="left:-212.3px;width:2000px;text-align:center;top:797.6px;font-size:9.0px;line-height:10px;">322,80</div>
<div class="t n" style="left:-131.5px;width:2000px;text-align:center;top:797.6px;font-size:9.0px;line-height:10px;">18 180 006,84</div>
<div class="t n" style="left:-35.3px;width:2000px;text-align:center;top:797.6px;font-size:9.0px;line-height:10px;">15 634 805,90</div>
<div class="t n" style="left:60.0px;width:2000px;text-align:center;top:797.6px;font-size:9.0px;line-height:10px;">1 636 200,61</div>
<div class="t n" style="left:153.2px;width:2000px;text-align:center;top:797.6px;font-size:9.0px;line-height:10px;">909 000,33</div>
<div class="t n" style="left:220.5px;width:2000px;text-align:center;top:797.6px;font-size:9.0px;line-height:10px;">0,00</div>
<div class="t n" style="left:302.6px;width:2000px;text-align:center;top:797.6px;font-size:9.0px;line-height:10px;">0,00</div>
<div class="t n" style="left:413.6px;width:2000px;text-align:center;top:797.6px;font-size:9.0px;line-height:10px;">0,00</div>
<div class="t n" style="left:484.0px;width:2000px;text-align:center;top:797.6px;font-size:9.0px;line-height:10px;">0,00</div>
<div class="t n" style="left:522.2px;width:2000px;text-align:center;top:797.6px;font-size:9.0px;line-height:10px;">0,00</div>
<div class="t n" style="left:603.5px;width:2000px;text-align:center;top:797.6px;font-size:9.0px;line-height:10px;">0,00</div>
<div class="t " style="left:-839.0px;width:2000px;text-align:center;top:820.0px;font-size:11.0px;line-height:13.2px;">7.</div>
<div class="t " style="left:176.0px;top:820.4px;font-size:11.0px;line-height:12.5px;">Муниципальный район Алексеевский</div>
<div class="t n" style="left:-538.6px;width:2000px;text-align:center;top:819.6px;font-size:9.0px;line-height:10px;">6</div>
<div class="t n" style="left:-489.8px;width:2000px;text-align:center;top:819.6px;font-size:9.0px;line-height:10px;">2</div>
<div class="t n" style="left:-449.5px;width:2000px;text-align:center;top:819.6px;font-size:9.0px;line-height:10px;">0</div>
<div class="t n" style="left:-404.2px;width:2000px;text-align:center;top:819.6px;font-size:9.0px;line-height:10px;">2</div>
<div class="t n" style="left:-341.0px;width:2000px;text-align:center;top:819.6px;font-size:9.0px;line-height:10px;">58,00</div>
<div class="t n" style="left:-274.2px;width:2000px;text-align:center;top:819.6px;font-size:9.0px;line-height:10px;">0,00</div>
<div class="t n" style="left:-212.3px;width:2000px;text-align:center;top:819.6px;font-size:9.0px;line-height:10px;">58,00</div>
<div class="t n" style="left:-131.5px;width:2000px;text-align:center;top:819.6px;font-size:9.0px;line-height:10px;">1 838 020,00</div>
<div class="t n" style="left:-35.3px;width:2000px;text-align:center;top:819.6px;font-size:9.0px;line-height:10px;">1 580 697,20</div>
<div class="t n" style="left:60.0px;width:2000px;text-align:center;top:819.6px;font-size:9.0px;line-height:10px;">165 421,80</div>
<div class="t n" style="left:153.2px;width:2000px;text-align:center;top:819.6px;font-size:9.0px;line-height:10px;">91 901,00</div>
<div class="t n" style="left:220.5px;width:2000px;text-align:center;top:819.6px;font-size:9.0px;line-height:10px;">0,00</div>
<div class="t n" style="left:302.6px;width:2000px;text-align:center;top:819.6px;font-size:9.0px;line-height:10px;">0,00</div>
<div class="t n" style="left:413.6px;width:2000px;text-align:center;top:819.6px;font-size:9.0px;line-height:10px;">0,00</div>
<div class="t n" style="left:484.0px;width:2000px;text-align:center;top:819.6px;font-size:9.0px;line-height:10px;">0,00</div>
<div class="t n" style="left:522.2px;width:2000px;text-align:center;top:819.6px;font-size:9.0px;line-height:10px;">0,00</div>
<div class="t n" style="left:603.5px;width:2000px;text-align:center;top:819.6px;font-size:9.0px;line-height:10px;">0,00</div>
<div class="t " style="left:-839.0px;width:2000px;text-align:center;top:841.9px;font-size:11.0px;line-height:13.2px;">8.</div>
<div class="t " style="left:176.0px;top:842.3px;font-size:11.0px;line-height:12.5px;">Муниципальный район Безенчукский</div>
<div class="t n" style="left:-538.6px;width:2000px;text-align:center;top:841.5px;font-size:9.0px;line-height:10px;">16</div>
<div class="t n" style="left:-489.8px;width:2000px;text-align:center;top:841.5px;font-size:9.0px;line-height:10px;">4</div>
<div class="t n" style="left:-449.5px;width:2000px;text-align:center;top:841.5px;font-size:9.0px;line-height:10px;">4</div>
<div class="t n" style="left:-404.2px;width:2000px;text-align:center;top:841.5px;font-size:9.0px;line-height:10px;">0</div>
<div class="t n" style="left:-341.0px;width:2000px;text-align:center;top:841.5px;font-size:9.0px;line-height:10px;">180,70</div>
<div class="t n" style="left:-274.2px;width:2000px;text-align:center;top:841.5px;font-size:9.0px;line-height:10px;">180,70</div>
<div class="t n" style="left:-212.3px;width:2000px;text-align:center;top:841.5px;font-size:9.0px;line-height:10px;">0,00</div>
<div class="t n" style="left:-131.5px;width:2000px;text-align:center;top:841.5px;font-size:9.0px;line-height:10px;">5 588 006,40</div>
<div class="t n" style="left:-35.3px;width:2000px;text-align:center;top:841.5px;font-size:9.0px;line-height:10px;">4 805 685,50</div>
<div class="t n" style="left:60.0px;width:2000px;text-align:center;top:841.5px;font-size:9.0px;line-height:10px;">502 920,58</div>
<div class="t n" style="left:153.2px;width:2000px;text-align:center;top:841.5px;font-size:9.0px;line-height:10px;">279 400,32</div>
<div class="t n" style="left:220.5px;width:2000px;text-align:center;top:841.5px;font-size:9.0px;line-height:10px;">0,00</div>
<div class="t n" style="left:302.6px;width:2000px;text-align:center;top:841.5px;font-size:9.0px;line-height:10px;">0,00</div>
<div class="t n" style="left:413.6px;width:2000px;text-align:center;top:841.5px;font-size:9.0px;line-height:10px;">0,00</div>
<div class="t n" style="left:484.0px;width:2000px;text-align:center;top:841.5px;font-size:9.0px;line-height:10px;">0,00</div>
<div class="t n" style="left:522.2px;width:2000px;text-align:center;top:841.5px;font-size:9.0px;line-height:10px;">0,00</div>
<div class="t n" style="left:603.5px;width:2000px;text-align:center;top:841.5px;font-size:9.0px;line-height:10px;">0,00</div>
<div class="t " style="left:-839.0px;width:2000px;text-align:center;top:863.9px;font-size:11.0px;line-height:13.2px;">9.</div>
<div class="t " style="left:176.0px;top:864.3px;font-size:11.0px;line-height:12.5px;">Муниципальный район Большеглушицкий</div>
<div class="t n" style="left:-538.6px;width:2000px;text-align:center;top:863.5px;font-size:9.0px;line-height:10px;">15</div>
<div class="t n" style="left:-489.8px;width:2000px;text-align:center;top:863.5px;font-size:9.0px;line-height:10px;">8</div>
<div class="t n" style="left:-449.5px;width:2000px;text-align:center;top:863.5px;font-size:9.0px;line-height:10px;">6</div>
<div class="t n" style="left:-404.2px;width:2000px;text-align:center;top:863.5px;font-size:9.0px;line-height:10px;">2</div>
<div class="t n" style="left:-341.0px;width:2000px;text-align:center;top:863.5px;font-size:9.0px;line-height:10px;">396,30</div>
<div class="t n" style="left:-274.2px;width:2000px;text-align:center;top:863.5px;font-size:9.0px;line-height:10px;">284,40</div>
<div class="t n" style="left:-212.3px;width:2000px;text-align:center;top:863.5px;font-size:9.0px;line-height:10px;">111,90</div>
<div class="t n" style="left:-131.5px;width:2000px;text-align:center;top:863.5px;font-size:9.0px;line-height:10px;">13 102 812,72</div>
<div class="t n" style="left:-35.3px;width:2000px;text-align:center;top:863.5px;font-size:9.0px;line-height:10px;">11 268 418,94</div>
<div class="t n" style="left:60.0px;width:2000px;text-align:center;top:863.5px;font-size:9.0px;line-height:10px;">1 179 253,15</div>
<div class="t n" style="left:153.2px;width:2000px;text-align:center;top:863.5px;font-size:9.0px;line-height:10px;">655 140,63</div>
<div class="t n" style="left:220.5px;width:2000px;text-align:center;top:863.5px;font-size:9.0px;line-height:10px;">0,00</div>
<div class="t n" style="left:302.6px;width:2000px;text-align:center;top:863.5px;font-size:9.0px;line-height:10px;">0,00</div>
<div class="t n" style="left:413.6px;width:2000px;text-align:center;top:863.5px;font-size:9.0px;line-height:10px;">0,00</div>
<div class="t n" style="left:484.0px;width:2000px;text-align:center;top:863.5px;font-size:9.0px;line-height:10px;">0,00</div>
<div class="t n" style="left:522.2px;width:2000px;text-align:center;top:863.5px;font-size:9.0px;line-height:10px;">0,00</div>
<div class="t n" style="left:603.5px;width:2000px;text-align:center;top:863.5px;font-size:9.0px;line-height:10px;">0,00</div>
<div class="t " style="left:-839.0px;width:2000px;text-align:center;top:894.7px;font-size:11.0px;line-height:13.2px;">10.</div>
<div class="t " style="left:176.0px;top:895.1px;font-size:11.0px;line-height:12.5px;">Муниципальный район Кинельский</div>
<div class="t n" style="left:-538.6px;width:2000px;text-align:center;top:894.3px;font-size:9.0px;line-height:10px;">127</div>
<div class="t n" style="left:-489.8px;width:2000px;text-align:center;top:894.3px;font-size:9.0px;line-height:10px;">56</div>
<div class="t n" style="left:-449.5px;width:2000px;text-align:center;top:894.3px;font-size:9.0px;line-height:10px;">49</div>
<div class="t n" style="left:-404.2px;width:2000px;text-align:center;top:894.3px;font-size:9.0px;line-height:10px;">7</div>
<div class="t n" style="left:-341.0px;width:2000px;text-align:center;top:894.3px;font-size:9.0px;line-height:10px;">2 016,10</div>
<div class="t n" style="left:-274.2px;width:2000px;text-align:center;top:894.3px;font-size:9.0px;line-height:10px;">1 730,10</div>
<div class="t n" style="left:-212.3px;width:2000px;text-align:center;top:894.3px;font-size:9.0px;line-height:10px;">286,00</div>
<div class="t n" style="left:-131.5px;width:2000px;text-align:center;top:894.3px;font-size:9.0px;line-height:10px;">71 022 064,20</div>
<div class="t n" style="left:-35.3px;width:2000px;text-align:center;top:894.3px;font-size:9.0px;line-height:10px;">61 078 975,21</div>
<div class="t n" style="left:60.0px;width:2000px;text-align:center;top:894.3px;font-size:9.0px;line-height:10px;">6 391 985,78</div>
<div class="t n" style="left:153.2px;width:2000px;text-align:center;top:894.3px;font-size:9.0px;line-height:10px;">3 551 103,21</div>
<div class="t n" style="left:220.5px;width:2000px;text-align:center;top:894.3px;font-size:9.0px;line-height:10px;">0,00</div>
<div class="t n" style="left:302.6px;width:2000px;text-align:center;top:894.3px;font-size:9.0px;line-height:10px;">0,00</div>
<div class="t n" style="left:413.6px;width:2000px;text-align:center;top:894.3px;font-size:9.0px;line-height:10px;">0,00</div>
<div class="t n" style="left:484.0px;width:2000px;text-align:center;top:894.3px;font-size:9.0px;line-height:10px;">0,00</div>
<div class="t n" style="left:522.2px;width:2000px;text-align:center;top:894.3px;font-size:9.0px;line-height:10px;">0,00</div>
<div class="t n" style="left:603.5px;width:2000px;text-align:center;top:894.3px;font-size:9.0px;line-height:10px;">0,00</div>
<div class="t " style="left:-839.0px;width:2000px;text-align:center;top:916.7px;font-size:11.0px;line-height:13.2px;">11.</div>
<div class="t " style="left:176.0px;top:917.1px;font-size:11.0px;line-height:12.5px;">Муниципальный район Пестравский</div>
<div class="t n" style="left:-538.6px;width:2000px;text-align:center;top:916.3px;font-size:9.0px;line-height:10px;">30</div>
<div class="t n" style="left:-489.8px;width:2000px;text-align:center;top:916.3px;font-size:9.0px;line-height:10px;">21</div>
<div class="t n" style="left:-449.5px;width:2000px;text-align:center;top:916.3px;font-size:9.0px;line-height:10px;">19</div>
<div class="t n" style="left:-404.2px;width:2000px;text-align:center;top:916.3px;font-size:9.0px;line-height:10px;">2</div>
<div class="t n" style="left:-341.0px;width:2000px;text-align:center;top:916.3px;font-size:9.0px;line-height:10px;">950,98</div>
<div class="t n" style="left:-274.2px;width:2000px;text-align:center;top:916.3px;font-size:9.0px;line-height:10px;">851,98</div>
<div class="t n" style="left:-212.3px;width:2000px;text-align:center;top:916.3px;font-size:9.0px;line-height:10px;">99,00</div>
<div class="t n" style="left:-131.5px;width:2000px;text-align:center;top:916.3px;font-size:9.0px;line-height:10px;">32 880 133,50</div>
<div class="t n" style="left:-35.3px;width:2000px;text-align:center;top:916.3px;font-size:9.0px;line-height:10px;">28 276 914,81</div>
<div class="t n" style="left:60.0px;width:2000px;text-align:center;top:916.3px;font-size:9.0px;line-height:10px;">2 959 212,02</div>
<div class="t n" style="left:153.2px;width:2000px;text-align:center;top:916.3px;font-size:9.0px;line-height:10px;">1 644 006,67</div>
<div class="t n" style="left:220.5px;width:2000px;text-align:center;top:916.3px;font-size:9.0px;line-height:10px;">0,00</div>
<div class="t n" style="left:302.6px;width:2000px;text-align:center;top:916.3px;font-size:9.0px;line-height:10px;">0,00</div>
<div class="t n" style="left:413.6px;width:2000px;text-align:center;top:916.3px;font-size:9.0px;line-height:10px;">0,00</div>
<div class="t n" style="left:484.0px;width:2000px;text-align:center;top:916.3px;font-size:9.0px;line-height:10px;">0,00</div>
<div class="t n" style="left:522.2px;width:2000px;text-align:center;top:916.3px;font-size:9.0px;line-height:10px;">0,00</div>
<div class="t n" style="left:603.5px;width:2000px;text-align:center;top:916.3px;font-size:9.0px;line-height:10px;">0,00</div>
<div class="t " style="left:-839.0px;width:2000px;text-align:center;top:938.5px;font-size:11.0px;line-height:13.2px;">12.</div>
<div class="t " style="left:176.0px;top:938.9px;font-size:11.0px;line-height:12.5px;">Муниципальный район Сергиевский</div>
<div class="t n" style="left:-538.6px;width:2000px;text-align:center;top:938.1px;font-size:9.0px;line-height:10px;">223</div>
<div class="t n" style="left:-489.8px;width:2000px;text-align:center;top:938.1px;font-size:9.0px;line-height:10px;">108</div>
<div class="t n" style="left:-449.5px;width:2000px;text-align:center;top:938.1px;font-size:9.0px;line-height:10px;">72</div>
<div class="t n" style="left:-404.2px;width:2000px;text-align:center;top:938.1px;font-size:9.0px;line-height:10px;">36</div>
<div class="t n" style="left:-341.0px;width:2000px;text-align:center;top:938.1px;font-size:9.0px;line-height:10px;">4 629,40</div>
<div class="t n" style="left:-274.2px;width:2000px;text-align:center;top:938.1px;font-size:9.0px;line-height:10px;">3 088,90</div>
<div class="t n" style="left:-212.3px;width:2000px;text-align:center;top:938.1px;font-size:9.0px;line-height:10px;">1 540,50</div>
<div class="t n" style="left:-131.5px;width:2000px;text-align:center;top:938.1px;font-size:9.0px;line-height:10px;">162 510 457,60</div>
<div class="t n" style="left:-35.3px;width:2000px;text-align:center;top:938.1px;font-size:9.0px;line-height:10px;">139 758 993,54</div>
<div class="t n" style="left:60.0px;width:2000px;text-align:center;top:938.1px;font-size:9.0px;line-height:10px;">14 625 941,18</div>
<div class="t n" style="left:153.2px;width:2000px;text-align:center;top:938.1px;font-size:9.0px;line-height:10px;">8 125 522,88</div>
<div class="t n" style="left:220.5px;width:2000px;text-align:center;top:938.1px;font-size:9.0px;line-height:10px;">0,00</div>
<div class="t n" style="left:302.6px;width:2000px;text-align:center;top:938.1px;font-size:9.0px;line-height:10px;">0,00</div>
<div class="t n" style="left:413.6px;width:2000px;text-align:center;top:938.1px;font-size:9.0px;line-height:10px;">0,00</div>
<div class="t n" style="left:484.0px;width:2000px;text-align:center;top:938.1px;font-size:9.0px;line-height:10px;">0,00</div>
<div class="t n" style="left:522.2px;width:2000px;text-align:center;top:938.1px;font-size:9.0px;line-height:10px;">0,00</div>
<div class="t n" style="left:603.5px;width:2000px;text-align:center;top:938.1px;font-size:9.0px;line-height:10px;">0,00</div>
<div class="t " style="left:-839.0px;width:2000px;text-align:center;top:960.9px;font-size:11.0px;line-height:13.2px;">13.</div>
<div class="t " style="left:176.0px;top:961.3px;font-size:11.0px;line-height:12.5px;">Муниципальный<br>район Хворостянский</div>
<div class="t n" style="left:-538.6px;width:2000px;text-align:center;top:960.5px;font-size:9.0px;line-height:10px;">43</div>
<div class="t n" style="left:-489.8px;width:2000px;text-align:center;top:960.5px;font-size:9.0px;line-height:10px;">18</div>
<div class="t n" style="left:-449.5px;width:2000px;text-align:center;top:960.5px;font-size:9.0px;line-height:10px;">16</div>
<div class="t n" style="left:-404.2px;width:2000px;text-align:center;top:960.5px;font-size:9.0px;line-height:10px;">2</div>
<div class="t n" style="left:-341.0px;width:2000px;text-align:center;top:960.5px;font-size:9.0px;line-height:10px;">878,80</div>
<div class="t n" style="left:-274.2px;width:2000px;text-align:center;top:960.5px;font-size:9.0px;line-height:10px;">781,50</div>
<div class="t n" style="left:-212.3px;width:2000px;text-align:center;top:960.5px;font-size:9.0px;line-height:10px;">97,30</div>
<div class="t n" style="left:-131.5px;width:2000px;text-align:center;top:960.5px;font-size:9.0px;line-height:10px;">29 464 406,40</div>
<div class="t n" style="left:-35.3px;width:2000px;text-align:center;top:960.5px;font-size:9.0px;line-height:10px;">25 339 389,50</div>
<div class="t n" style="left:60.0px;width:2000px;text-align:center;top:960.5px;font-size:9.0px;line-height:10px;">2 651 796,58</div>
<div class="t n" style="left:153.2px;width:2000px;text-align:center;top:960.5px;font-size:9.0px;line-height:10px;">1 473 220,32</div>
<div class="t n" style="left:220.5px;width:2000px;text-align:center;top:960.5px;font-size:9.0px;line-height:10px;">0,00</div>
<div class="t n" style="left:302.6px;width:2000px;text-align:center;top:960.5px;font-size:9.0px;line-height:10px;">0,00</div>
<div class="t n" style="left:413.6px;width:2000px;text-align:center;top:960.5px;font-size:9.0px;line-height:10px;">0,00</div>
<div class="t n" style="left:484.0px;width:2000px;text-align:center;top:960.5px;font-size:9.0px;line-height:10px;">0,00</div>
<div class="t n" style="left:522.2px;width:2000px;text-align:center;top:960.5px;font-size:9.0px;line-height:10px;">0,00</div>
<div class="t n" style="left:603.5px;width:2000px;text-align:center;top:960.5px;font-size:9.0px;line-height:10px;">0,00</div>
<div class="t " style="left:176.0px;top:988.4px;font-size:11.0px;line-height:12.5px;">Итого&nbsp; по субъекту Российской Федерации за 2020 год</div>
<div class="t n" style="left:-538.6px;width:2000px;text-align:center;top:987.6px;font-size:9.0px;line-height:10px;">2 248</div>
<div class="t n" style="left:-489.8px;width:2000px;text-align:center;top:987.6px;font-size:9.0px;line-height:10px;">975</div>
<div class="t n" style="left:-449.5px;width:2000px;text-align:center;top:987.6px;font-size:9.0px;line-height:10px;">754</div>
<div class="t n" style="left:-404.2px;width:2000px;text-align:center;top:987.6px;font-size:9.0px;line-height:10px;">221</div>
<div class="t n" style="left:-341.0px;width:2000px;text-align:center;top:987.6px;font-size:9.0px;line-height:10px;">36 470,42</div>
<div class="t n" style="left:-274.2px;width:2000px;text-align:center;top:987.6px;font-size:9.0px;line-height:10px;">27 999,77</div>
<div class="t n" style="left:-212.3px;width:2000px;text-align:center;top:987.6px;font-size:9.0px;line-height:10px;">8 470,65</div>
<div class="t n" style="left:-131.5px;width:2000px;text-align:center;top:987.6px;font-size:9.0px;line-height:10px;">1 763 517 076,59</div>
<div class="t n" style="left:-35.3px;width:2000px;text-align:center;top:987.6px;font-size:9.0px;line-height:10px;">1 011 240 319,66</div>
<div class="t n" style="left:60.0px;width:2000px;text-align:center;top:987.6px;font-size:9.0px;line-height:10px;">416 426 794,44</div>
<div class="t n" style="left:153.2px;width:2000px;text-align:center;top:987.6px;font-size:9.0px;line-height:10px;">335 849 962,49</div>
<div class="t n" style="left:220.5px;width:2000px;text-align:center;top:987.6px;font-size:9.0px;line-height:10px;">0,00</div>
<div class="t n" style="left:302.6px;width:2000px;text-align:center;top:987.6px;font-size:9.0px;line-height:10px;">0,00</div>
<div class="t n" style="left:413.6px;width:2000px;text-align:center;top:987.6px;font-size:9.0px;line-height:10px;">0,00</div>
<div class="t n" style="left:484.0px;width:2000px;text-align:center;top:987.6px;font-size:9.0px;line-height:10px;">0,00</div>
<div class="t n" style="left:522.2px;width:2000px;text-align:center;top:987.6px;font-size:9.0px;line-height:10px;">0,00</div>
<div class="t n" style="left:603.5px;width:2000px;text-align:center;top:987.6px;font-size:9.0px;line-height:10px;">0,00</div>
<div class="t " style="left:176.0px;top:1017.1px;font-size:11.0px;line-height:12.5px;">Итого по II этапу (2020 год) с финансовой<br>поддержкой Фонда</div>
<div class="t n" style="left:-538.6px;width:2000px;text-align:center;top:1016.3px;font-size:9.0px;line-height:10px;">2 248</div>
<div class="t n" style="left:-489.8px;width:2000px;text-align:center;top:1016.3px;font-size:9.0px;line-height:10px;">975</div>
<div class="t n" style="left:-449.5px;width:2000px;text-align:center;top:1016.3px;font-size:9.0px;line-height:10px;">754</div>
<div class="t n" style="left:-404.2px;width:2000px;text-align:center;top:1016.3px;font-size:9.0px;line-height:10px;">221</div>
<div class="t n" style="left:-341.0px;width:2000px;text-align:center;top:1016.3px;font-size:9.0px;line-height:10px;">36 470,42</div>
<div class="t n" style="left:-274.2px;width:2000px;text-align:center;top:1016.3px;font-size:9.0px;line-height:10px;">27 999,77</div>
<div class="t n" style="left:-212.3px;width:2000px;text-align:center;top:1016.3px;font-size:9.0px;line-height:10px;">8 470,65</div>
<div class="t n" style="left:-131.5px;width:2000px;text-align:center;top:1016.3px;font-size:9.0px;line-height:10px;">1 763 517 076,59</div>
<div class="t n" style="left:-35.3px;width:2000px;text-align:center;top:1016.3px;font-size:9.0px;line-height:10px;">1 011 240 319,66</div>
<div class="t n" style="left:60.0px;width:2000px;text-align:center;top:1016.3px;font-size:9.0px;line-height:10px;">416 426 794,44</div>
<div class="t n" style="left:153.2px;width:2000px;text-align:center;top:1016.3px;font-size:9.0px;line-height:10px;">335 849 962,49</div>
<div class="t n" style="left:220.5px;width:2000px;text-align:center;top:1016.3px;font-size:9.0px;line-height:10px;">0,00</div>
<div class="t n" style="left:302.6px;width:2000px;text-align:center;top:1016.3px;font-size:9.0px;line-height:10px;">0,00</div>
<div class="t n" style="left:413.6px;width:2000px;text-align:center;top:1016.3px;font-size:9.0px;line-height:10px;">0,00</div>
<div class="t n" style="left:484.0px;width:2000px;text-align:center;top:1016.3px;font-size:9.0px;line-height:10px;">0,00</div>
<div class="t n" style="left:522.2px;width:2000px;text-align:center;top:1016.3px;font-size:9.0px;line-height:10px;">0,00</div>
<div class="t n" style="left:603.5px;width:2000px;text-align:center;top:1016.3px;font-size:9.0px;line-height:10px;">0,00</div>
<div class="t " style="left:-839.0px;width:2000px;text-align:center;top:1046.0px;font-size:11.0px;line-height:13.2px;">1.</div>
<div class="t " style="left:176.0px;top:1046.4px;font-size:11.0px;line-height:12.5px;">Городской округ Похвистнево</div>
<div class="t n" style="left:-538.6px;width:2000px;text-align:center;top:1045.6px;font-size:9.0px;line-height:10px;">187</div>
<div class="t n" style="left:-489.8px;width:2000px;text-align:center;top:1045.6px;font-size:9.0px;line-height:10px;">94</div>
<div class="t n" style="left:-449.5px;width:2000px;text-align:center;top:1045.6px;font-size:9.0px;line-height:10px;">82</div>
<div class="t n" style="left:-404.2px;width:2000px;text-align:center;top:1045.6px;font-size:9.0px;line-height:10px;">12</div>
<div class="t n" style="left:-341.0px;width:2000px;text-align:center;top:1045.6px;font-size:9.0px;line-height:10px;">2 910,40</div>
<div class="t n" style="left:-274.2px;width:2000px;text-align:center;top:1045.6px;font-size:9.0px;line-height:10px;">2 518,70</div>
<div class="t n" style="left:-212.3px;width:2000px;text-align:center;top:1045.6px;font-size:9.0px;line-height:10px;">391,70</div>
<div class="t n" style="left:-131.5px;width:2000px;text-align:center;top:1045.6px;font-size:9.0px;line-height:10px;">123 663 852,84</div>
<div class="t n" style="left:-35.3px;width:2000px;text-align:center;top:1045.6px;font-size:9.0px;line-height:10px;">91 731 408,85</div>
<div class="t n" style="left:60.0px;width:2000px;text-align:center;top:1045.6px;font-size:9.0px;line-height:10px;">9 599 798,60</div>
<div class="t n" style="left:153.2px;width:2000px;text-align:center;top:1045.6px;font-size:9.0px;line-height:10px;">22 332 445,39</div>
<div class="t n" style="left:220.5px;width:2000px;text-align:center;top:1045.6px;font-size:9.0px;line-height:10px;">0,00</div>
<div class="t n" style="left:302.6px;width:2000px;text-align:center;top:1045.6px;font-size:9.0px;line-height:10px;">0,00</div>
<div class="t n" style="left:413.6px;width:2000px;text-align:center;top:1045.6px;font-size:9.0px;line-height:10px;">0,00</div>
<div class="t n" style="left:484.0px;width:2000px;text-align:center;top:1045.6px;font-size:9.0px;line-height:10px;">0,00</div>
<div class="t n" style="left:522.2px;width:2000px;text-align:center;top:1045.6px;font-size:9.0px;line-height:10px;">0,00</div>
<div class="t n" style="left:603.5px;width:2000px;text-align:center;top:1045.6px;font-size:9.0px;line-height:10px;">0,00</div>
<div class="t " style="left:-839.0px;width:2000px;text-align:center;top:1068.0px;font-size:11.0px;line-height:13.2px;">2.</div>
<div class="t " style="left:176.0px;top:1068.4px;font-size:11.0px;line-height:12.5px;">Городской округ&nbsp; Самара</div>
<div class="t n" style="left:-538.6px;width:2000px;text-align:center;top:1067.6px;font-size:9.0px;line-height:10px;">1 101</div>
<div class="t n" style="left:-489.8px;width:2000px;text-align:center;top:1067.6px;font-size:9.0px;line-height:10px;">469</div>
<div class="t n" style="left:-449.5px;width:2000px;text-align:center;top:1067.6px;font-size:9.0px;line-height:10px;">377</div>
<div class="t n" style="left:-404.2px;width:2000px;text-align:center;top:1067.6px;font-size:9.0px;line-height:10px;">92</div>
<div class="t n" style="left:-341.0px;width:2000px;text-align:center;top:1067.6px;font-size:9.0px;line-height:10px;">17 184,60</div>
<div class="t n" style="left:-274.2px;width:2000px;text-align:center;top:1067.6px;font-size:9.0px;line-height:10px;">13 302,40</div>
<div class="t n" style="left:-212.3px;width:2000px;text-align:center;top:1067.6px;font-size:9.0px;line-height:10px;">3 882,20</div>
<div class="t n" style="left:-131.5px;width:2000px;text-align:center;top:1067.6px;font-size:9.0px;line-height:10px;">1 047 389 323,36</div>
<div class="t n" style="left:-35.3px;width:2000px;text-align:center;top:1067.6px;font-size:9.0px;line-height:10px;">440 035 647,65</div>
<div class="t n" style="left:60.0px;width:2000px;text-align:center;top:1067.6px;font-size:9.0px;line-height:10px;">355 860 879,64</div>
<div class="t n" style="left:153.2px;width:2000px;text-align:center;top:1067.6px;font-size:9.0px;line-height:10px;">251 692 796,07</div>
<div class="t n" style="left:220.5px;width:2000px;text-align:center;top:1067.6px;font-size:9.0px;line-height:10px;">0,00</div>
<div class="t n" style="left:302.6px;width:2000px;text-align:center;top:1067.6px;font-size:9.0px;line-height:10px;">0,00</div>
<div class="t n" style="left:413.6px;width:2000px;text-align:center;top:1067.6px;font-size:9.0px;line-height:10px;">0,00</div>
<div class="t n" style="left:484.0px;width:2000px;text-align:center;top:1067.6px;font-size:9.0px;line-height:10px;">0,00</div>
<div class="t n" style="left:522.2px;width:2000px;text-align:center;top:1067.6px;font-size:9.0px;line-height:10px;">0,00</div>
<div class="t n" style="left:603.5px;width:2000px;text-align:center;top:1067.6px;font-size:9.0px;line-height:10px;">0,00</div>
<div class="t " style="left:-839.0px;width:2000px;text-align:center;top:1090.0px;font-size:11.0px;line-height:13.2px;">3.</div>
<div class="t " style="left:176.0px;top:1090.4px;font-size:11.0px;line-height:12.5px;">Городской округ Сызрань</div>
<div class="t n" style="left:-538.6px;width:2000px;text-align:center;top:1089.6px;font-size:9.0px;line-height:10px;">258</div>
<div class="t n" style="left:-489.8px;width:2000px;text-align:center;top:1089.6px;font-size:9.0px;line-height:10px;">109</div>
<div class="t n" style="left:-449.5px;width:2000px;text-align:center;top:1089.6px;font-size:9.0px;line-height:10px;">66</div>
<div class="t n" style="left:-404.2px;width:2000px;text-align:center;top:1089.6px;font-size:9.0px;line-height:10px;">43</div>
<div class="t n" style="left:-341.0px;width:2000px;text-align:center;top:1089.6px;font-size:9.0px;line-height:10px;">4 615,83</div>
<div class="t n" style="left:-274.2px;width:2000px;text-align:center;top:1089.6px;font-size:9.0px;line-height:10px;">2 930,30</div>
<div class="t n" style="left:-212.3px;width:2000px;text-align:center;top:1089.6px;font-size:9.0px;line-height:10px;">1 685,53</div>
<div class="t n" style="left:-131.5px;width:2000px;text-align:center;top:1089.6px;font-size:9.0px;line-height:10px;">194 310 147,61</div>
<div class="t n" style="left:-35.3px;width:2000px;text-align:center;top:1089.6px;font-size:9.0px;line-height:10px;">144 455 215,41</div>
<div class="t n" style="left:60.0px;width:2000px;text-align:center;top:1089.6px;font-size:9.0px;line-height:10px;">15 905 016,64</div>
<div class="t n" style="left:153.2px;width:2000px;text-align:center;top:1089.6px;font-size:9.0px;line-height:10px;">33 949 915,56</div>
<div class="t n" style="left:220.5px;width:2000px;text-align:center;top:1089.6px;font-size:9.0px;line-height:10px;">0,00</div>
<div class="t n" style="left:302.6px;width:2000px;text-align:center;top:1089.6px;font-size:9.0px;line-height:10px;">0,00</div>
<div class="t n" style="left:413.6px;width:2000px;text-align:center;top:1089.6px;font-size:9.0px;line-height:10px;">0,00</div>
<div class="t n" style="left:484.0px;width:2000px;text-align:center;top:1089.6px;font-size:9.0px;line-height:10px;">0,00</div>
<div class="t n" style="left:522.2px;width:2000px;text-align:center;top:1089.6px;font-size:9.0px;line-height:10px;">0,00</div>
<div class="t n" style="left:603.5px;width:2000px;text-align:center;top:1089.6px;font-size:9.0px;line-height:10px;">0,00</div>
<div class="t " style="left:-839.0px;width:2000px;text-align:center;top:1112.0px;font-size:11.0px;line-height:13.2px;">4.</div>
<div class="t " style="left:176.0px;top:1112.4px;font-size:11.0px;line-height:12.5px;">Городской округ&nbsp; Чапаевск</div>
<div class="t n" style="left:-538.6px;width:2000px;text-align:center;top:1111.6px;font-size:9.0px;line-height:10px;">31</div>
<div class="t n" style="left:-489.8px;width:2000px;text-align:center;top:1111.6px;font-size:9.0px;line-height:10px;">18</div>
<div class="t n" style="left:-449.5px;width:2000px;text-align:center;top:1111.6px;font-size:9.0px;line-height:10px;">18</div>
<div class="t n" style="left:-404.2px;width:2000px;text-align:center;top:1111.6px;font-size:9.0px;line-height:10px;">0</div>
<div class="t n" style="left:-341.0px;width:2000px;text-align:center;top:1111.6px;font-size:9.0px;line-height:10px;">575,26</div>
<div class="t n" style="left:-274.2px;width:2000px;text-align:center;top:1111.6px;font-size:9.0px;line-height:10px;">575,26</div>
<div class="t n" style="left:-212.3px;width:2000px;text-align:center;top:1111.6px;font-size:9.0px;line-height:10px;">0,00</div>
<div class="t n" style="left:-131.5px;width:2000px;text-align:center;top:1111.6px;font-size:9.0px;line-height:10px;">11 595 343,85</div>
<div class="t n" style="left:-35.3px;width:2000px;text-align:center;top:1111.6px;font-size:9.0px;line-height:10px;">9 918 752,36</div>
<div class="t n" style="left:60.0px;width:2000px;text-align:center;top:1111.6px;font-size:9.0px;line-height:10px;">1 035 182,24</div>
<div class="t n" style="left:153.2px;width:2000px;text-align:center;top:1111.6px;font-size:9.0px;line-height:10px;">641 409,25</div>
<div class="t n" style="left:220.5px;width:2000px;text-align:center;top:1111.6px;font-size:9.0px;line-height:10px;">0,00</div>
<div class="t n" style="left:302.6px;width:2000px;text-align:center;top:1111.6px;font-size:9.0px;line-height:10px;">0,00</div>
<div class="t n" style="left:413.6px;width:2000px;text-align:center;top:1111.6px;font-size:9.0px;line-height:10px;">0,00</div>
<div class="t n" style="left:484.0px;width:2000px;text-align:center;top:1111.6px;font-size:9.0px;line-height:10px;">0,00</div>
<div class="t n" style="left:522.2px;width:2000px;text-align:center;top:1111.6px;font-size:9.0px;line-height:10px;">0,00</div>
<div class="t n" style="left:603.5px;width:2000px;text-align:center;top:1111.6px;font-size:9.0px;line-height:10px;">0,00</div>
</div>
</body></html>
